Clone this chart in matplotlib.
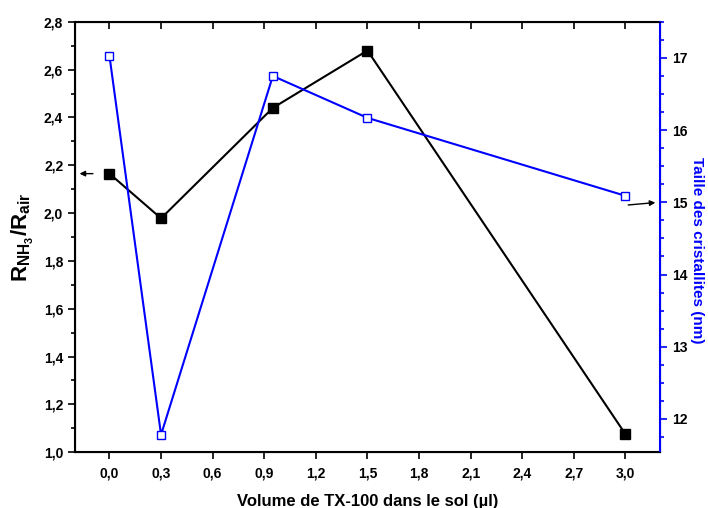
import matplotlib
matplotlib.use("Agg")
import matplotlib.pyplot as plt
from matplotlib.ticker import MultipleLocator, FuncFormatter

plt.rcParams['font.family'] = ['Liberation Sans', 'DejaVu Sans']
plt.rcParams['font.weight'] = 'bold'
plt.rcParams['mathtext.fontset'] = 'custom'
plt.rcParams['mathtext.rm'] = 'Liberation Sans:bold'
plt.rcParams['mathtext.it'] = 'Liberation Sans:bold'
plt.rcParams['mathtext.bf'] = 'Liberation Sans:bold'

# volume de TX-100 (µl)
volume = [0.0, 0.3, 0.95, 1.5, 3.0]
# réponse R_NH3/R_air
reponse = [2.165, 1.978, 2.44, 2.68, 1.075]
# taille des cristallites (nm)
taille = [17.03, 11.78, 16.75, 16.17, 15.09]

x_ticks = [0.0, 0.3, 0.6, 0.9, 1.2, 1.5, 1.8, 2.1, 2.4, 2.7, 3.0]

virgule = FuncFormatter(lambda v, p: ('%.1f' % v).replace('.', ','))

fig = plt.figure(figsize=(7.08, 5.08), dpi=100)
ax = fig.add_axes([0.106, 0.110, 0.826, 0.847])

ax.plot(volume, reponse, color='black', lw=1.5, marker='s', ms=7,
        mfc='black', mec='black')
ax.set_xlim(-0.2, 3.2)
ax.set_ylim(1.0, 2.8)
ax.set_xticks(x_ticks)
ax.xaxis.set_major_formatter(virgule)
ax.yaxis.set_major_locator(MultipleLocator(0.2))
ax.yaxis.set_minor_locator(MultipleLocator(0.1))
ax.yaxis.set_major_formatter(virgule)
ax.tick_params(axis='x', which='both', direction='out', top=True, length=5, width=1.2,
               labelsize=10, pad=5)
ax.tick_params(axis='y', which='major', direction='out', length=5, width=1.2, labelsize=10)
ax.tick_params(axis='y', which='minor', direction='out', length=3, width=1.2)
for s in ['left', 'bottom', 'top']:
    ax.spines[s].set_linewidth(1.5)
ax.set_xlabel('Volume de TX-100 dans le sol (µl)', fontsize=12, fontweight='bold', labelpad=10)
ax.set_ylabel(r'$\mathrm{R_{NH_3}/R_{air}}$', fontsize=16, labelpad=6)

# axe de droite
ax2 = ax.twinx()
ax2.plot(volume, taille, color='blue', lw=1.5, marker='s', ms=6,
         mfc='white', mec='blue', mew=1.0)
ax2.set_ylim(11.54, 17.5)
ax2.yaxis.set_major_locator(MultipleLocator(1))
ax2.yaxis.set_minor_locator(MultipleLocator(0.25))
ax2.tick_params(axis='y', which='major', direction='out', length=5, width=1.2,
                colors='blue', labelcolor='black', labelsize=10)
ax2.tick_params(axis='y', which='minor', direction='out', length=3, width=1.2, colors='blue')
ax2.spines['right'].set_color('blue')
ax2.spines['right'].set_linewidth(1.5)
ax2.set_ylabel('Taille des cristallites (nm)', color='blue', fontsize=11,
               fontweight='bold', rotation=270, va='center', ha='center')
ax2.yaxis.set_label_coords(1.063, 0.47)

# ticks du haut vers l'intérieur
for t in ax.xaxis.get_major_ticks():
    t.tick2line.set_marker(3)

# flèches
ax.annotate('', xy=(-0.19, reponse[0]), xytext=(-0.08, reponse[0]),
            arrowprops=dict(arrowstyle='-|>', color='black', lw=1, mutation_scale=8))
ax2.annotate('', xy=(3.19, 15.0), xytext=(3.0, 14.96),
             arrowprops=dict(arrowstyle='-|>', color='black', lw=1, mutation_scale=8))

fig.savefig('out.png', dpi=100)
